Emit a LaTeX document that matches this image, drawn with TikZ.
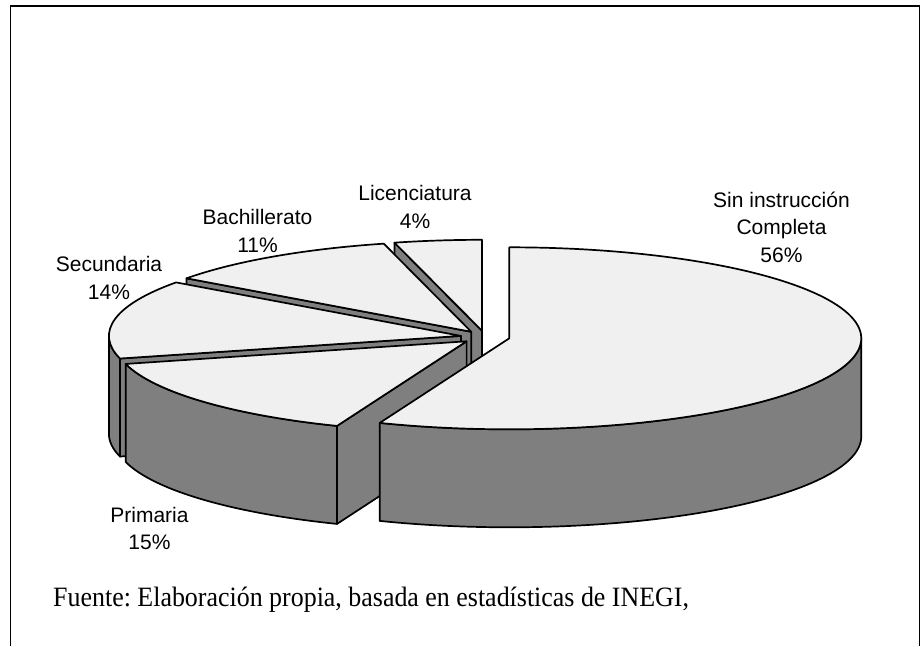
\documentclass[tikz,border=0pt]{standalone}
\usepackage{fontspec}
\setmainfont{Liberation Serif}
\setsansfont{Liberation Sans}
\frenchspacing
\definecolor{tp}{HTML}{F0F0F0}
\definecolor{sd}{HTML}{7F7F7F}
\tikzset{
  pie/.style={draw=black, line width=1.7pt, line join=round},
  top/.style={pie, fill=tp},
  side/.style={pie, fill=sd},
  ell/.style={x radius=352, y radius=91},
  lbl/.style={font=\sffamily\fontsize{21}{27.5}\selectfont, align=center, anchor=north, inner sep=0pt},
}

\begin{document}
\begin{tikzpicture}[x=1pt,y=1pt]
  \useasboundingbox (0,0) rectangle (921,-646);
  \draw[line width=1.2pt] (10.6,-646) -- (10.6,-6) -- (919.5,-6) -- (919.5,-646);

  % slice tips
  \coordinate (lic) at (482.0,-330.8);
  \coordinate (bac) at (471.3,-331.8);
  \coordinate (sec) at (460.9,-335.9);
  \coordinate (pri) at (466.6,-341.3);
  \coordinate (sin) at (509.3,-338.3);

  % Licenciatura 4%
  \draw[side] (lic) -- ++(104.4:352 and 91) -- ++(0,-98) -- ([yshift=-98pt]lic) -- cycle;
  \draw[top] (lic) -- ++(90:352 and 91) arc[start angle=90, end angle=104.4, ell] -- cycle;

  % Bachillerato 11%
  \draw[side] (bac) -- ++(144:352 and 91) -- ++(0,-98) -- ([yshift=-98pt]bac) -- cycle;
  \draw[top] (bac) -- ++(104.4:352 and 91) arc[start angle=104.4, end angle=144, ell] -- cycle;

  % Secundaria 14%
  \draw[side] (sec) -- ++(194.4:352 and 91) -- ++(0,-98) -- ([yshift=-98pt]sec) -- cycle;
  \draw[side] (sec) ++(180:352 and 91) arc[start angle=180, end angle=194.4, ell] -- ++(0,-98) arc[start angle=194.4, end angle=180, ell] -- cycle;
  \draw[top] (sec) -- ++(144:352 and 91) arc[start angle=144, end angle=194.4, ell] -- cycle;

  % Primaria 15%
  \draw[side] (pri) -- ++(-111.6:352 and 91) -- ++(0,-98) -- ([yshift=-98pt]pri) -- cycle;
  \draw[side] (pri) ++(-165.6:352 and 91) arc[start angle=-165.6, end angle=-111.6, ell] -- ++(0,-98) arc[start angle=-111.6, end angle=-165.6, ell] -- cycle;
  \draw[top] (pri) -- ++(-165.6:352 and 91) arc[start angle=-165.6, end angle=-111.6, ell] -- cycle;

  % Sin instruccion 56%
  \draw[side] (sin) ++(-111.6:352 and 91) arc[start angle=-111.6, end angle=0, ell] -- ++(0,-98) arc[start angle=0, end angle=-111.6, ell] -- cycle;
  \draw[top] (sin) -- ++(-111.6:352 and 91) arc[start angle=-111.6, end angle=90, ell] -- cycle;

  % labels
  \node[lbl] (licl) at (415,-185.3) {Licenciatura\\4\%};
  \node[lbl] (sinl) at (781.5,-191.5) {Sin instrucción\\Completa\\56\%};
  \node[lbl] (bacl) at (257.5,-209.5) {Bachillerato\\11\%};
  \node[lbl] (secl) at (109,-256.3) {Secundaria\\14\%};
  \node[lbl] (pril) at (149.5,-507) {Primaria\\15\%};
  \node[font=\fontsize{28}{32}\selectfont, anchor=base west, inner sep=0pt] (src) at (53,-606) {\scalebox{0.926}[1]{Fuente: Elaboración propia, basada en estadísticas de INEGI,}};
\end{tikzpicture}
\end{document}
